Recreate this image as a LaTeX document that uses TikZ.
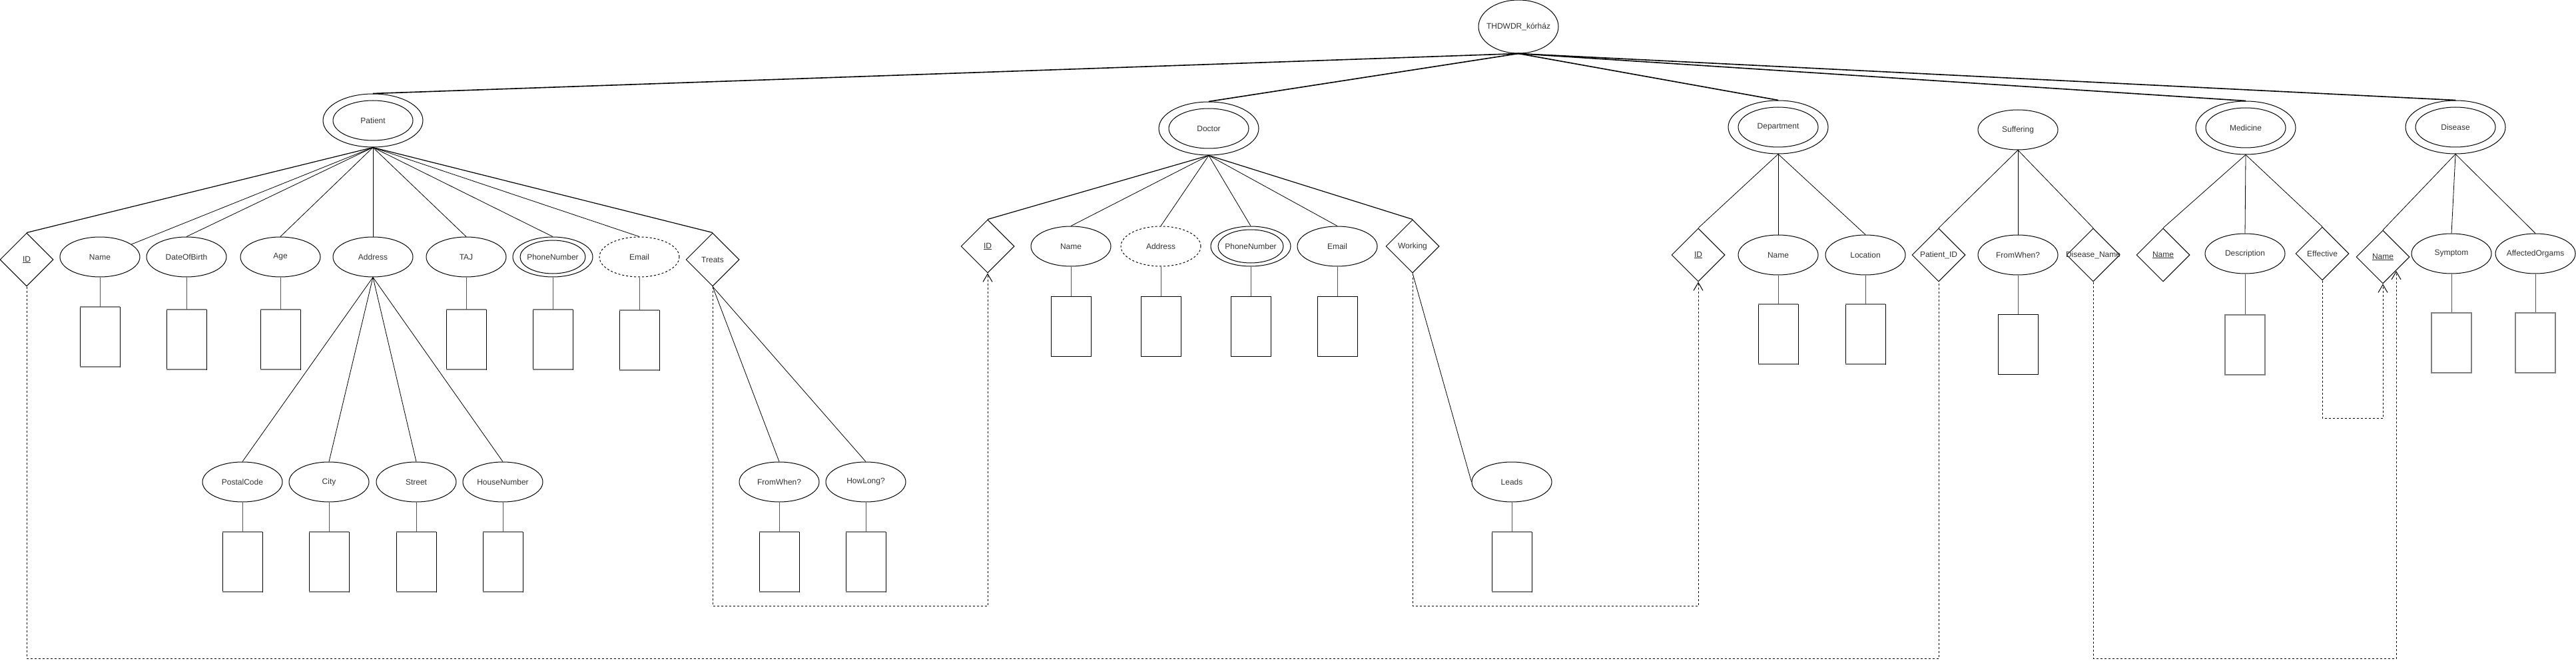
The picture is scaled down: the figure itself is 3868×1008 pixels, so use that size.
\documentclass[tikz,border=0pt]{standalone}
\usepackage{fontspec}
\setmainfont{Liberation Sans}
\usetikzlibrary{shapes.geometric,arrows.meta}
\definecolor{txt}{HTML}{333333}
\definecolor{gtb}{HTML}{808080}
\definecolor{gcn}{HTML}{555555}
\begin{document}
\begin{tikzpicture}[x=1pt,y=-1pt,
  lab/.style={font=\fontsize{12}{14}\selectfont, text=txt, inner sep=0pt},
  ell/.style={ellipse, draw=black, line width=1pt, minimum width=120pt, minimum height=60pt, inner sep=0pt},
  ent/.style={ellipse, draw=black, line width=1pt, minimum width=150pt, minimum height=80pt, inner sep=0pt},
  dia/.style={diamond, draw=black, line width=1pt, minimum width=80pt, minimum height=80pt, inner sep=0pt},
  dotell/.style={ell, dash pattern=on 3pt off 3pt},
  box/.style={rectangle, draw=black, line width=0.9pt, minimum width=60pt, minimum height=90pt, inner sep=0pt},
  gbox/.style={box, draw=gtb, line width=1.6pt},
  gline/.style={draw=gtb, line width=2pt},
  thk/.style={draw=black, line width=1.6pt},
  mid/.style={draw=black, line width=1.2pt},
  thn/.style={draw=black, line width=0.8pt},
  acn/.style={draw=gcn, line width=1pt},
  dsh/.style={draw=black, line width=1pt, dash pattern=on 3pt off 3pt},
  arr/.style={-{Straight Barb[length=12pt,width=14pt,line width=1pt]}}
]
\useasboundingbox (0,0) rectangle (3868,1008);
\fill[white] (0,0) rectangle (3868,1008);

% helper coordinates
\coordinate (y910) at (0,910);
\coordinate (y989) at (0,989);
\coordinate (y628) at (0,628);
\coordinate (disnR) at (3598,407);

% ---------- root ----------
\node[ell, minimum height=80pt, label={[lab]center:THDWDR\_kórház}] (root) at (2280,40) {};

% ---------- Patient ----------
\node[ent] (pat) at (560,181) {};
\node[ell, label={[lab]center:Patient}] (pati) at (560,181) {};

\node[dia, label={[lab]center:\underline{ID}}] (pid) at (40,390) {};
\node[ell, label={[lab]center:Name}] (pname) at (150,386) {};
\node[ell, label={[lab]center:DateOfBirth}] (pdob) at (280,386) {};
\node[ell, label={[lab]center:Age}] (page) at (421,386) {};
\node[ell, label={[lab]center:Address}] (paddr) at (560,386) {};
\node[ell, label={[lab]center:TAJ}] (ptaj) at (700,386) {};
\node[ell] (pphone) at (830,386) {};
\node[ell, minimum width=98pt, minimum height=50pt, label={[lab]center:PhoneNumber}] (pphonei) at (830,386) {};
\node[dotell, label={[lab]center:Email}] (pemail) at (960,386) {};
\node[dia, label={[lab]center:Treats}] (treats) at (1070,390) {};

\node[box] (bpname) at (150,506) {};
\node[box] (bpdob) at (280,510) {};
\node[box] (bpage) at (421,510) {};
\node[box] (bptaj) at (700,510) {};
\node[box] (bpphone) at (830,510) {};
\node[box] (bpemail) at (960,511) {};

\node[ell, label={[lab]center:PostalCode}] (postal) at (364,724) {};
\node[ell, label={[lab]center:City}] (city) at (494,724) {};
\node[ell, label={[lab]center:Street}] (street) at (625,724) {};
\node[ell, label={[lab]center:HouseNumber}] (house) at (755,724) {};
\node[box] (bpostal) at (364,844) {};
\node[box] (bcity) at (494,844) {};
\node[box] (bstreet) at (625,844) {};
\node[box] (bhouse) at (755,844) {};

\node[ell, label={[lab]center:FromWhen?}] (tfw) at (1170,724) {};
\node[ell, label={[lab]center:HowLong?}] (thl) at (1300,724) {};
\node[box] (btfw) at (1170,844) {};
\node[box] (bthl) at (1300,844) {};

% ---------- Doctor ----------
\node[ent] (doc) at (1815,193) {};
\node[ell, label={[lab]center:Doctor}] (doci) at (1815,193) {};

\node[dia, label={[lab]center:\underline{ID}}] (did) at (1483,370) {};
\node[ell, label={[lab]center:Name}] (dname) at (1608,370) {};
\node[dotell, label={[lab]center:Address}] (daddr) at (1743,370) {};
\node[ell] (dphone) at (1878,370) {};
\node[ell, minimum width=98pt, minimum height=50pt, label={[lab]center:PhoneNumber}] (dphonei) at (1878,370) {};
\node[ell, label={[lab]center:Email}] (demail) at (2008,370) {};
\node[dia, label={[lab]center:Working}] (working) at (2121,370) {};

\node[box] (bdname) at (1608,490) {};
\node[box] (bdaddr) at (1743,490) {};
\node[box] (bdphone) at (1878,490) {};
\node[box] (bdemail) at (2008,490) {};

\node[ell, label={[lab]center:Leads}] (leads) at (2270,724) {};
\node[box] (bleads) at (2270,844) {};

% ---------- Department ----------
\node[ent] (dep) at (2670,191) {};
\node[ell, label={[lab]center:Department}] (depi) at (2670,191) {};
\node[dia, label={[lab]center:\underline{ID}}] (depid) at (2550,383) {};
\node[ell, label={[lab]center:Name}] (depname) at (2670,383) {};
\node[ell, label={[lab]center:Location}] (loc) at (2801,383) {};
\node[box] (bdepname) at (2670,502) {};
\node[box] (bloc) at (2801,502) {};

% ---------- Suffering ----------
\node[ell, label={[lab]center:Suffering}] (suf) at (3030,195) {};
\node[dia, label={[lab]center:Patient\_ID}] (patid) at (2911,383) {};
\node[ell, label={[lab]center:FromWhen?}] (sfw) at (3030,383) {};
\node[dia, label={[lab]center:Disease\_Name}] (disname) at (3143,383) {};
\node[box] (bsfw) at (3030,517) {};

% ---------- Medicine ----------
\node[ent] (med) at (3372,192) {};
\node[ell, label={[lab]center:Medicine}] (medi) at (3372,192) {};
\node[dia, label={[lab]center:\underline{Name}}] (mname) at (3248,383) {};
\node[ell, label={[lab]center:Description}] (desc) at (3371,381) {};
\node[dia, label={[lab]center:Effective}] (eff) at (3487,381) {};
\node[gbox] (bdesc) at (3371,518) {};

% ---------- Disease ----------
\node[ent] (dis) at (3687,191) {};
\node[ell, label={[lab]center:Disease}] (disi) at (3687,191) {};
\node[dia, label={[lab]center:\underline{Name}}] (disn) at (3578,386) {};
\node[ell, label={[lab]center:Symptom}] (sym) at (3681,381) {};
\node[ell, label={[lab]center:AffectedOrgams}] (aff) at (3807,381) {};
\node[gbox] (bsym) at (3681,515) {};
\node[gbox] (baff) at (3807,515) {};

% gray top/bottom edges on boxes
\foreach \n in {bpname,bpdob,bpage,bptaj,bpphone,bpemail,bpostal,bcity,bstreet,bhouse,btfw,bthl,bleads,bdepname,bloc}
  \draw[gline] (\n.north west) -- (\n.north east) (\n.south west) -- (\n.south east);

% ---------- root edges ----------
\draw[thk] (root.south) -- (pat.north);
\draw[thk] (root.south) -- (doc.north);
\draw[thk] (root.south) -- (dep.north);
\draw[thk] (root.south) -- (med.north);
\draw[thk] (root.south) -- (dis.north);

% ---------- Patient edges ----------
\draw[mid] (pat.south) -- (pid.north);
\draw[thn] (pat.south) -- (pname);
\draw[thn] (pat.south) -- (pdob.north);
\draw[thn] (pat.south) -- (page.north);
\draw[thn] (pat.south) -- (paddr.north);
\draw[thn] (pat.south) -- (ptaj.north);
\draw[thn] (pat.south) -- (pphone.north);
\draw[thn] (pat.south) -- (pemail.north);
\draw[mid] (pat.south) -- (treats.north);
\draw[thn] (paddr.south) -- (postal.north);
\draw[thn] (paddr.south) -- (city.north);
\draw[thn] (paddr.south) -- (street.north);
\draw[thn] (paddr.south) -- (house.north);
\draw[thn] (treats.south) -- (tfw.north);
\draw[thn] (treats.south) -- (thl.north);

% ---------- Doctor edges ----------
\draw[mid] (doc.south) -- (did.north);
\draw[thn] (doc.south) -- (dname.north);
\draw[thn] (doc.south) -- (daddr.north);
\draw[thn] (doc.south) -- (dphone.north);
\draw[thn] (doc.south) -- (demail.north);
\draw[mid] (doc.south) -- (working.north);
\draw[thn] (working.south) -- (leads.west);

% ---------- Department / Suffering / Medicine / Disease edges ----------
\draw[thn] (dep.south) -- (depid.north);
\draw[thn] (dep.south) -- (depname.north);
\draw[thn] (dep.south) -- (loc.north);
\draw[thn] (suf.south) -- (patid.north);
\draw[thn] (suf.south) -- (sfw.north);
\draw[thn] (suf.south) -- (disname.north);
\draw[thn] (med.south) -- (mname.north);
\draw[thn] (med.south) -- (desc.north);
\draw[thn] (med.south) -- (eff.north);
\draw[thn] (dis.south) -- (disn.north);
\draw[thn] (dis.south) -- (sym.north);
\draw[thn] (dis.south) -- (aff.north);

% ---------- attribute to value boxes ----------
\foreach \a/\b in {pname/bpname,pdob/bpdob,page/bpage,ptaj/bptaj,pphone/bpphone,pemail/bpemail,
  postal/bpostal,city/bcity,street/bstreet,house/bhouse,tfw/btfw,thl/bthl,
  dname/bdname,daddr/bdaddr,dphone/bdphone,demail/bdemail,leads/bleads,
  depname/bdepname,loc/bloc,sfw/bsfw,desc/bdesc,sym/bsym,aff/baff}
  \draw[acn] (\a.south) -- (\b.north);

% ---------- dashed references ----------
\draw[dsh,arr] (treats.south) -- (treats.south |- y910) -| (did.south);
\draw[dsh] (pid.south) -- (pid.south |- y989) -| (patid.south);
\draw[dsh,arr] (working.south) -- (working.south |- y910) -| (depid.south);
\draw[dsh,arr] (disname.south) -- (disname.south |- y989) -| (disnR);
\draw[dsh,arr] (eff.south) -- (eff.south |- y628) -| (disn.south);
\end{tikzpicture}
\end{document}
